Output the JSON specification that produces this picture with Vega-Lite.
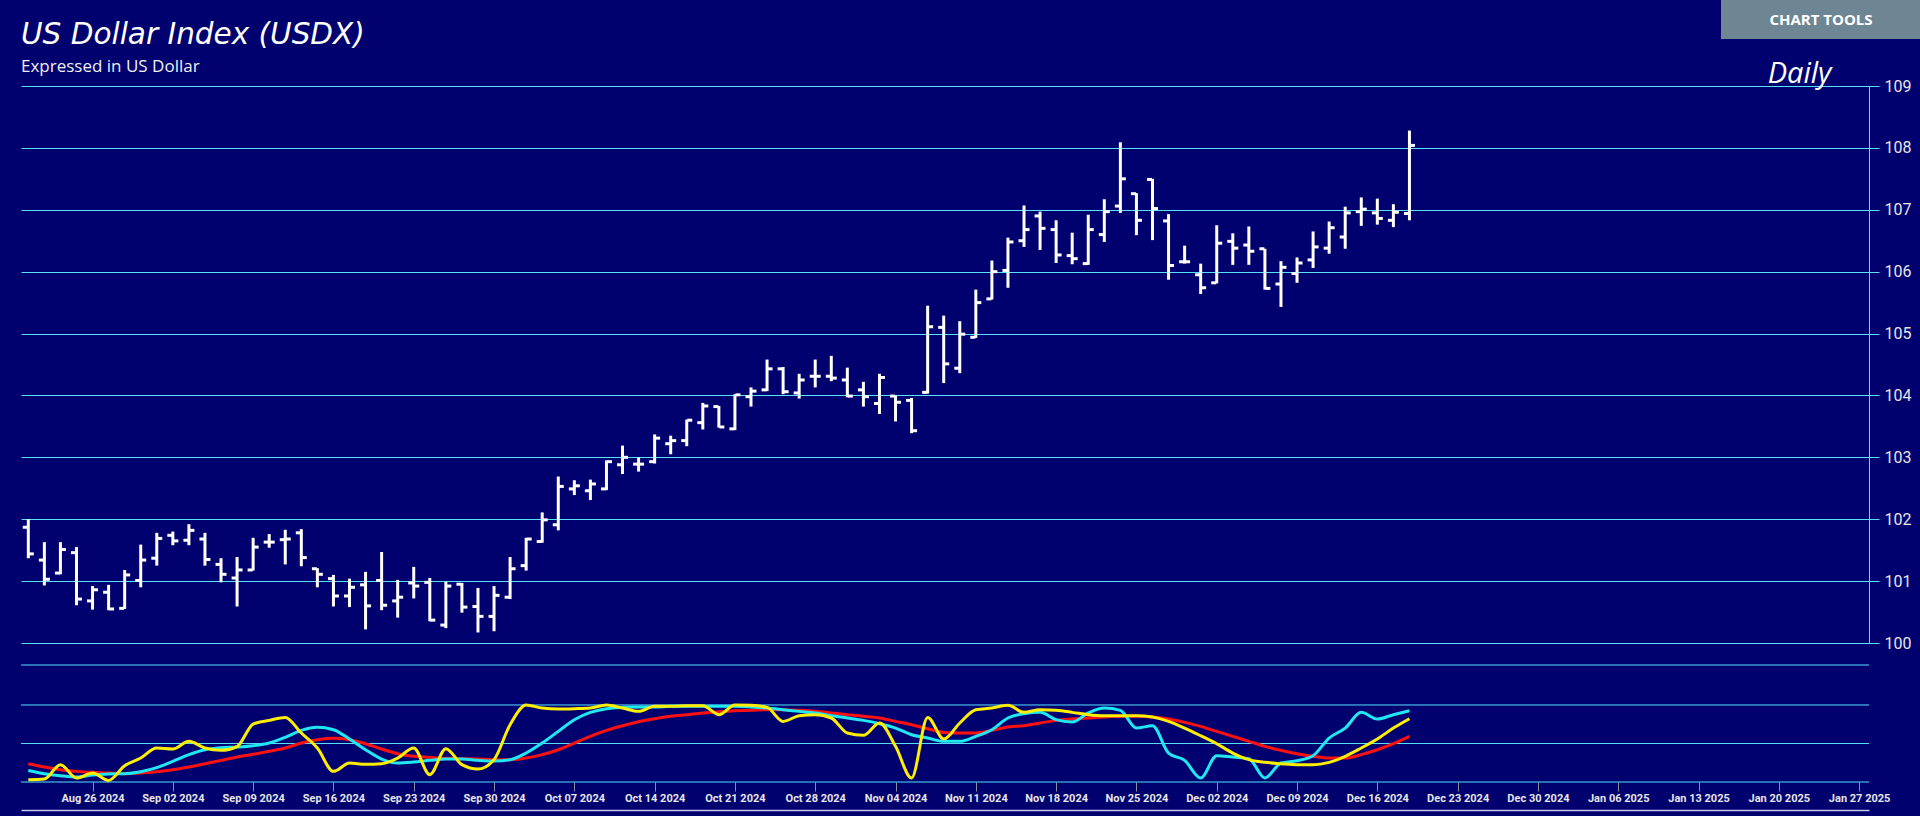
{
  "$schema": "https://vega.github.io/schema/vega-lite/v6.json",
  "background": "#00006e",
  "padding": {"left": 20, "top": 0, "right": 0, "bottom": 0},
  "config": {"view": {"stroke": null}, "font": "Roboto"},
  "datasets": {
    "bars": [
      {"d": "2024-08-20", "o": 101.87, "h": 102.00, "l": 101.37, "c": 101.44, "yl": 3.0, "cy": 14.9, "rd": 23.8},
      {"d": "2024-08-21", "o": 101.34, "h": 101.63, "l": 100.93, "c": 101.03, "yl": 3.9, "cy": 10.8, "rd": 19.4},
      {"d": "2024-08-22", "o": 101.13, "h": 101.63, "l": 101.11, "c": 101.51, "yl": 22.5, "cy": 8.2, "rd": 15.9},
      {"d": "2024-08-23", "o": 101.46, "h": 101.55, "l": 100.61, "c": 100.71, "yl": 5.2, "cy": 6.5, "rd": 13.8},
      {"d": "2024-08-26", "o": 100.68, "h": 100.92, "l": 100.54, "c": 100.86, "yl": 11.6, "cy": 9.1, "rd": 12.5},
      {"d": "2024-08-27", "o": 100.82, "h": 100.94, "l": 100.53, "c": 100.55, "yl": 2.1, "cy": 10.4, "rd": 11.6},
      {"d": "2024-08-28", "o": 100.56, "h": 101.18, "l": 100.55, "c": 101.10, "yl": 21.2, "cy": 10.8, "rd": 10.8},
      {"d": "2024-08-29", "o": 101.01, "h": 101.59, "l": 100.90, "c": 101.34, "yl": 31.1, "cy": 13.4, "rd": 11.6},
      {"d": "2024-08-30", "o": 101.37, "h": 101.78, "l": 101.25, "c": 101.69, "yl": 44.1, "cy": 18.6, "rd": 13.4},
      {"d": "2024-09-02", "o": 101.74, "h": 101.80, "l": 101.58, "c": 101.65, "yl": 42.8, "cy": 26.8, "rd": 15.9},
      {"d": "2024-09-03", "o": 101.66, "h": 101.92, "l": 101.58, "c": 101.82, "yl": 52.8, "cy": 35.5, "rd": 19.4},
      {"d": "2024-09-04", "o": 101.68, "h": 101.78, "l": 101.25, "c": 101.35, "yl": 44.1, "cy": 41.9, "rd": 23.8},
      {"d": "2024-09-05", "o": 101.27, "h": 101.37, "l": 100.98, "c": 101.11, "yl": 41.1, "cy": 44.5, "rd": 28.1},
      {"d": "2024-09-06", "o": 101.05, "h": 101.39, "l": 100.59, "c": 101.18, "yl": 46.0, "cy": 45.4, "rd": 32.4},
      {"d": "2024-09-09", "o": 101.18, "h": 101.70, "l": 101.17, "c": 101.55, "yl": 75.2, "cy": 47.1, "rd": 35.9},
      {"d": "2024-09-10", "o": 101.63, "h": 101.76, "l": 101.54, "c": 101.63, "yl": 80.0, "cy": 50.6, "rd": 39.8},
      {"d": "2024-09-11", "o": 101.67, "h": 101.83, "l": 101.27, "c": 101.68, "yl": 83.9, "cy": 58.0, "rd": 44.1},
      {"d": "2024-09-12", "o": 101.78, "h": 101.84, "l": 101.24, "c": 101.38, "yl": 63.6, "cy": 67.0, "rd": 50.6},
      {"d": "2024-09-13", "o": 101.20, "h": 101.21, "l": 100.90, "c": 101.11, "yl": 44.1, "cy": 71.0, "rd": 54.9},
      {"d": "2024-09-16", "o": 101.04, "h": 101.10, "l": 100.59, "c": 100.76, "yl": 13.8, "cy": 67.9, "rd": 56.7},
      {"d": "2024-09-17", "o": 100.76, "h": 101.04, "l": 100.58, "c": 100.90, "yl": 24.6, "cy": 55.8, "rd": 54.9},
      {"d": "2024-09-18", "o": 100.94, "h": 101.15, "l": 100.22, "c": 100.60, "yl": 22.9, "cy": 42.0, "rd": 49.7},
      {"d": "2024-09-19", "o": 101.01, "h": 101.47, "l": 100.53, "c": 100.61, "yl": 23.8, "cy": 29.8, "rd": 42.8},
      {"d": "2024-09-20", "o": 100.68, "h": 101.02, "l": 100.41, "c": 100.74, "yl": 31.1, "cy": 24.6, "rd": 36.7},
      {"d": "2024-09-23", "o": 100.97, "h": 101.23, "l": 100.72, "c": 100.92, "yl": 44.1, "cy": 25.9, "rd": 33.3},
      {"d": "2024-09-24", "o": 100.98, "h": 101.05, "l": 100.35, "c": 100.37, "yl": 9.5, "cy": 28.1, "rd": 32.0},
      {"d": "2024-09-25", "o": 100.29, "h": 100.99, "l": 100.24, "c": 100.92, "yl": 43.2, "cy": 29.8, "rd": 30.7},
      {"d": "2024-09-26", "o": 100.95, "h": 100.97, "l": 100.49, "c": 100.58, "yl": 22.5, "cy": 29.8, "rd": 30.3},
      {"d": "2024-09-27", "o": 100.59, "h": 100.89, "l": 100.17, "c": 100.43, "yl": 16.8, "cy": 28.1, "rd": 29.8},
      {"d": "2024-09-30", "o": 100.43, "h": 100.92, "l": 100.19, "c": 100.77, "yl": 29.0, "cy": 27.2, "rd": 29.0},
      {"d": "2024-10-01", "o": 100.74, "h": 101.39, "l": 100.71, "c": 101.20, "yl": 74.4, "cy": 29.0, "rd": 29.0},
      {"d": "2024-10-02", "o": 101.25, "h": 101.70, "l": 101.17, "c": 101.68, "yl": 100.0, "cy": 37.6, "rd": 31.1},
      {"d": "2024-10-03", "o": 101.64, "h": 102.11, "l": 101.62, "c": 101.99, "yl": 96.0, "cy": 50.6, "rd": 35.5},
      {"d": "2024-10-04", "o": 101.91, "h": 102.69, "l": 101.82, "c": 102.53, "yl": 94.8, "cy": 65.7, "rd": 41.9},
      {"d": "2024-10-07", "o": 102.49, "h": 102.63, "l": 102.39, "c": 102.54, "yl": 95.2, "cy": 80.9, "rd": 50.6},
      {"d": "2024-10-08", "o": 102.46, "h": 102.64, "l": 102.31, "c": 102.57, "yl": 96.0, "cy": 90.4, "rd": 59.3},
      {"d": "2024-10-09", "o": 102.49, "h": 102.95, "l": 102.47, "c": 102.93, "yl": 100.0, "cy": 95.2, "rd": 67.0},
      {"d": "2024-10-10", "o": 102.88, "h": 103.19, "l": 102.73, "c": 103.00, "yl": 96.0, "cy": 96.9, "rd": 73.1},
      {"d": "2024-10-11", "o": 102.89, "h": 103.00, "l": 102.77, "c": 102.89, "yl": 91.7, "cy": 97.4, "rd": 78.3},
      {"d": "2024-10-14", "o": 102.93, "h": 103.37, "l": 102.90, "c": 103.31, "yl": 98.2, "cy": 97.4, "rd": 82.2},
      {"d": "2024-10-15", "o": 103.22, "h": 103.35, "l": 103.05, "c": 103.27, "yl": 98.2, "cy": 98.2, "rd": 85.3},
      {"d": "2024-10-16", "o": 103.27, "h": 103.61, "l": 103.18, "c": 103.60, "yl": 99.0, "cy": 98.2, "rd": 87.4},
      {"d": "2024-10-17", "o": 103.56, "h": 103.88, "l": 103.45, "c": 103.83, "yl": 99.0, "cy": 98.2, "rd": 89.6},
      {"d": "2024-10-18", "o": 103.82, "h": 103.83, "l": 103.48, "c": 103.49, "yl": 87.4, "cy": 98.2, "rd": 91.3},
      {"d": "2024-10-21", "o": 103.46, "h": 104.02, "l": 103.44, "c": 104.01, "yl": 100.0, "cy": 98.2, "rd": 92.6},
      {"d": "2024-10-22", "o": 103.98, "h": 104.13, "l": 103.82, "c": 104.07, "yl": 99.5, "cy": 97.4, "rd": 93.1},
      {"d": "2024-10-23", "o": 104.09, "h": 104.58, "l": 104.07, "c": 104.43, "yl": 96.9, "cy": 96.0, "rd": 93.9},
      {"d": "2024-10-24", "o": 104.43, "h": 104.46, "l": 104.02, "c": 104.06, "yl": 78.7, "cy": 93.9, "rd": 93.9},
      {"d": "2024-10-25", "o": 104.04, "h": 104.35, "l": 103.95, "c": 104.25, "yl": 86.1, "cy": 91.7, "rd": 93.1},
      {"d": "2024-10-28", "o": 104.31, "h": 104.58, "l": 104.13, "c": 104.31, "yl": 87.4, "cy": 89.6, "rd": 91.7},
      {"d": "2024-10-29", "o": 104.31, "h": 104.64, "l": 104.23, "c": 104.28, "yl": 83.1, "cy": 86.1, "rd": 89.6},
      {"d": "2024-10-30", "o": 104.25, "h": 104.45, "l": 103.97, "c": 103.99, "yl": 63.6, "cy": 83.1, "rd": 87.4},
      {"d": "2024-10-31", "o": 104.09, "h": 104.22, "l": 103.82, "c": 103.98, "yl": 60.6, "cy": 80.0, "rd": 85.3},
      {"d": "2024-11-01", "o": 103.87, "h": 104.35, "l": 103.70, "c": 104.29, "yl": 76.6, "cy": 75.7, "rd": 83.1},
      {"d": "2024-11-04", "o": 103.99, "h": 104.00, "l": 103.58, "c": 103.89, "yl": 46.3, "cy": 70.0, "rd": 78.7},
      {"d": "2024-11-05", "o": 103.92, "h": 103.96, "l": 103.39, "c": 103.43, "yl": 5.2, "cy": 61.4, "rd": 74.4},
      {"d": "2024-11-06", "o": 104.05, "h": 105.45, "l": 104.03, "c": 105.11, "yl": 83.9, "cy": 57.1, "rd": 69.2},
      {"d": "2024-11-07", "o": 105.10, "h": 105.29, "l": 104.20, "c": 104.51, "yl": 55.8, "cy": 52.8, "rd": 64.4},
      {"d": "2024-11-08", "o": 104.44, "h": 105.20, "l": 104.36, "c": 104.99, "yl": 76.6, "cy": 52.8, "rd": 63.6},
      {"d": "2024-11-11", "o": 104.94, "h": 105.71, "l": 104.93, "c": 105.50, "yl": 93.9, "cy": 59.3, "rd": 63.6},
      {"d": "2024-11-12", "o": 105.56, "h": 106.18, "l": 105.55, "c": 106.00, "yl": 96.0, "cy": 67.9, "rd": 67.0},
      {"d": "2024-11-13", "o": 106.02, "h": 106.55, "l": 105.74, "c": 106.48, "yl": 99.5, "cy": 83.1, "rd": 71.5},
      {"d": "2024-11-14", "o": 106.50, "h": 107.07, "l": 106.40, "c": 106.68, "yl": 90.4, "cy": 88.7, "rd": 73.1},
      {"d": "2024-11-15", "o": 106.90, "h": 106.97, "l": 106.35, "c": 106.70, "yl": 93.9, "cy": 90.4, "rd": 76.6},
      {"d": "2024-11-18", "o": 106.68, "h": 106.83, "l": 106.14, "c": 106.27, "yl": 93.0, "cy": 80.9, "rd": 80.0},
      {"d": "2024-11-19", "o": 106.26, "h": 106.63, "l": 106.12, "c": 106.21, "yl": 90.4, "cy": 77.8, "rd": 81.8},
      {"d": "2024-11-20", "o": 106.13, "h": 106.92, "l": 106.11, "c": 106.68, "yl": 87.4, "cy": 89.6, "rd": 83.1},
      {"d": "2024-11-21", "o": 106.60, "h": 107.17, "l": 106.48, "c": 106.97, "yl": 86.1, "cy": 96.0, "rd": 84.4},
      {"d": "2024-11-22", "o": 107.06, "h": 108.09, "l": 106.95, "c": 107.50, "yl": 86.1, "cy": 93.0, "rd": 85.3},
      {"d": "2024-11-25", "o": 107.26, "h": 107.27, "l": 106.59, "c": 106.83, "yl": 86.1, "cy": 70.0, "rd": 85.3},
      {"d": "2024-11-26", "o": 107.49, "h": 107.50, "l": 106.51, "c": 107.02, "yl": 84.4, "cy": 73.1, "rd": 84.4},
      {"d": "2024-11-27", "o": 106.82, "h": 106.93, "l": 105.87, "c": 106.10, "yl": 78.7, "cy": 37.6, "rd": 81.8},
      {"d": "2024-11-28", "o": 106.16, "h": 106.42, "l": 106.13, "c": 106.16, "yl": 70.0, "cy": 28.1, "rd": 77.4},
      {"d": "2024-11-29", "o": 105.95, "h": 106.13, "l": 105.64, "c": 105.74, "yl": 60.1, "cy": 5.2, "rd": 72.2},
      {"d": "2024-12-02", "o": 105.82, "h": 106.75, "l": 105.81, "c": 106.46, "yl": 49.7, "cy": 34.2, "rd": 65.7},
      {"d": "2024-12-03", "o": 106.49, "h": 106.62, "l": 106.11, "c": 106.38, "yl": 37.6, "cy": 32.4, "rd": 59.3},
      {"d": "2024-12-04", "o": 106.43, "h": 106.73, "l": 106.11, "c": 106.33, "yl": 29.0, "cy": 30.3, "rd": 52.8},
      {"d": "2024-12-05", "o": 106.37, "h": 106.37, "l": 105.71, "c": 105.73, "yl": 25.5, "cy": 5.2, "rd": 46.3},
      {"d": "2024-12-06", "o": 105.80, "h": 106.17, "l": 105.43, "c": 106.07, "yl": 23.8, "cy": 24.6, "rd": 41.1},
      {"d": "2024-12-09", "o": 105.97, "h": 106.23, "l": 105.82, "c": 106.14, "yl": 22.5, "cy": 27.7, "rd": 36.7},
      {"d": "2024-12-10", "o": 106.19, "h": 106.65, "l": 106.06, "c": 106.40, "yl": 22.5, "cy": 34.2, "rd": 33.3},
      {"d": "2024-12-11", "o": 106.38, "h": 106.81, "l": 106.29, "c": 106.71, "yl": 25.5, "cy": 57.1, "rd": 31.1},
      {"d": "2024-12-12", "o": 106.56, "h": 107.05, "l": 106.37, "c": 106.95, "yl": 33.3, "cy": 70.0, "rd": 31.1},
      {"d": "2024-12-13", "o": 106.97, "h": 107.20, "l": 106.74, "c": 107.01, "yl": 44.1, "cy": 90.4, "rd": 35.5},
      {"d": "2024-12-16", "o": 106.95, "h": 107.18, "l": 106.76, "c": 106.86, "yl": 55.8, "cy": 81.8, "rd": 41.9},
      {"d": "2024-12-17", "o": 106.83, "h": 107.09, "l": 106.72, "c": 106.96, "yl": 70.0, "cy": 87.4, "rd": 49.7},
      {"d": "2024-12-18", "o": 106.94, "h": 108.28, "l": 106.83, "c": 108.04, "yl": 82.2, "cy": 92.6, "rd": 59.3}
    ],
    "levels": [
      {"level": 0},
      {"level": 50},
      {"level": 100},
      {"level": 151.9}
    ]
  },
  "bounds": "flush",
  "spacing": 86,
  "vconcat": [
    {
      "bounds": "flush",
      "spacing": 0,
      "hconcat": [
        {
          "width": 1700,
          "height": 39,
          "title": {
            "text": "US Dollar Index (USDX)",
            "subtitle": "Expressed in US Dollar",
            "anchor": "start",
            "frame": "group",
            "orient": "top",
            "offset": -76,
            "font": "DejaVu Sans",
            "fontSize": 29.5,
            "fontStyle": "italic",
            "fontWeight": "normal",
            "color": "#ffffff",
            "subtitleFont": "Open Sans",
            "subtitleFontSize": 17,
            "subtitleColor": "#f0f0f0",
            "subtitlePadding": 9
          },
          "data": {"values": []},
          "mark": "point"
        },
        {
          "width": 200,
          "height": 39,
          "view": {"fill": "#6e8594", "stroke": null},
          "data": {"values": [{"label": "CHART TOOLS"}]},
          "mark": {"type": "text", "font": "Open Sans", "fontSize": 15, "fontWeight": "bold", "color": "#ffffff"},
          "encoding": {"text": {"field": "label", "type": "nominal"}}
        }
      ]
    },
    {
      "bounds": "flush",
      "spacing": 22,
      "resolve": {"scale": {"x": "independent", "y": "independent"}},
      "vconcat": [
        {
          "width": 1848,
          "height": 557,
          "data": {"name": "bars"},
          "encoding": {
            "x": {
              "field": "d",
              "type": "ordinal",
              "scale": {
                "type": "point",
                "padding": 0.535,
                "align": 0.425,
                "domain": ["2024-08-20","2024-08-21","2024-08-22","2024-08-23","2024-08-26","2024-08-27","2024-08-28","2024-08-29","2024-08-30","2024-09-02","2024-09-03","2024-09-04","2024-09-05","2024-09-06","2024-09-09","2024-09-10","2024-09-11","2024-09-12","2024-09-13","2024-09-16","2024-09-17","2024-09-18","2024-09-19","2024-09-20","2024-09-23","2024-09-24","2024-09-25","2024-09-26","2024-09-27","2024-09-30","2024-10-01","2024-10-02","2024-10-03","2024-10-04","2024-10-07","2024-10-08","2024-10-09","2024-10-10","2024-10-11","2024-10-14","2024-10-15","2024-10-16","2024-10-17","2024-10-18","2024-10-21","2024-10-22","2024-10-23","2024-10-24","2024-10-25","2024-10-28","2024-10-29","2024-10-30","2024-10-31","2024-11-01","2024-11-04","2024-11-05","2024-11-06","2024-11-07","2024-11-08","2024-11-11","2024-11-12","2024-11-13","2024-11-14","2024-11-15","2024-11-18","2024-11-19","2024-11-20","2024-11-21","2024-11-22","2024-11-25","2024-11-26","2024-11-27","2024-11-28","2024-11-29","2024-12-02","2024-12-03","2024-12-04","2024-12-05","2024-12-06","2024-12-09","2024-12-10","2024-12-11","2024-12-12","2024-12-13","2024-12-16","2024-12-17","2024-12-18","2024-12-19","2024-12-20","2024-12-23","2024-12-24","2024-12-25","2024-12-26","2024-12-27","2024-12-30","2024-12-31","2025-01-01","2025-01-02","2025-01-03","2025-01-06","2025-01-07","2025-01-08","2025-01-09","2025-01-10","2025-01-13","2025-01-14","2025-01-15","2025-01-16","2025-01-17","2025-01-20","2025-01-21","2025-01-22","2025-01-23","2025-01-24","2025-01-27"]
              },
              "axis": null
            }
          },
          "layer": [
            {
              "mark": {"type": "rule", "color": "#ffffff", "strokeWidth": 3},
              "encoding": {
                "y": {
                  "field": "l",
                  "type": "quantitative",
                  "scale": {"domain": [100, 109], "zero": false, "nice": false},
                  "axis": {
                    "orient": "right",
                    "values": [100, 101, 102, 103, 104, 105, 106, 107, 108, 109],
                    "format": ".0f",
                    "grid": true,
                    "gridColor": "#55e3ff",
                    "gridOpacity": 1,
                    "gridWidth": 1,
                    "domain": true,
                    "domainColor": "#55e3ff",
                    "domainWidth": 1,
                    "ticks": true,
                    "tickColor": "#55e3ff",
                    "tickSize": 10,
                    "tickWidth": 1,
                    "labelFont": "Roboto",
                    "labelFontSize": 16,
                    "labelColor": "#e6e6e6",
                    "labelPadding": 5,
                    "labelFlush": false,
                    "labelOverlap": false,
                    "title": "Daily",
                    "titleAngle": 0,
                    "titleX": -70,
                    "titleY": -4,
                    "titleAlign": "center",
                    "titleBaseline": "alphabetic",
                    "titleFont": "Open Sans",
                    "titleFontSize": 29,
                    "titleFontStyle": "italic",
                    "titleFontWeight": "normal",
                    "titleColor": "#ffffff"
                  }
                },
                "y2": {"field": "h"}
              }
            },
            {
              "mark": {"type": "tick", "color": "#ffffff", "opacity": 1, "size": 5, "thickness": 3, "xOffset": -3},
              "encoding": {"y": {"field": "o", "type": "quantitative"}}
            },
            {
              "mark": {"type": "tick", "color": "#ffffff", "opacity": 1, "size": 5, "thickness": 3, "xOffset": 3},
              "encoding": {"y": {"field": "c", "type": "quantitative"}}
            }
          ]
        },
        {
          "width": 1848,
          "height": 117,
          "layer": [
            {
              "data": {"name": "levels"},
              "mark": {"type": "rule", "color": "#55e3ff", "strokeWidth": 1},
              "encoding": {
                "y": {
                  "field": "level",
                  "type": "quantitative",
                  "scale": {"domain": [0, 151.9], "zero": false, "nice": false},
                  "axis": null
                }
              }
            },
            {
              "data": {"name": "bars"},
              "mark": {"type": "line", "color": "#ff1010", "strokeWidth": 3, "interpolate": "monotone"},
              "encoding": {
                "x": {
                  "field": "d",
                  "type": "ordinal",
                  "scale": {
                    "type": "point",
                    "padding": 0.535,
                    "align": 0.425,
                    "domain": ["2024-08-20","2024-08-21","2024-08-22","2024-08-23","2024-08-26","2024-08-27","2024-08-28","2024-08-29","2024-08-30","2024-09-02","2024-09-03","2024-09-04","2024-09-05","2024-09-06","2024-09-09","2024-09-10","2024-09-11","2024-09-12","2024-09-13","2024-09-16","2024-09-17","2024-09-18","2024-09-19","2024-09-20","2024-09-23","2024-09-24","2024-09-25","2024-09-26","2024-09-27","2024-09-30","2024-10-01","2024-10-02","2024-10-03","2024-10-04","2024-10-07","2024-10-08","2024-10-09","2024-10-10","2024-10-11","2024-10-14","2024-10-15","2024-10-16","2024-10-17","2024-10-18","2024-10-21","2024-10-22","2024-10-23","2024-10-24","2024-10-25","2024-10-28","2024-10-29","2024-10-30","2024-10-31","2024-11-01","2024-11-04","2024-11-05","2024-11-06","2024-11-07","2024-11-08","2024-11-11","2024-11-12","2024-11-13","2024-11-14","2024-11-15","2024-11-18","2024-11-19","2024-11-20","2024-11-21","2024-11-22","2024-11-25","2024-11-26","2024-11-27","2024-11-28","2024-11-29","2024-12-02","2024-12-03","2024-12-04","2024-12-05","2024-12-06","2024-12-09","2024-12-10","2024-12-11","2024-12-12","2024-12-13","2024-12-16","2024-12-17","2024-12-18","2024-12-19","2024-12-20","2024-12-23","2024-12-24","2024-12-25","2024-12-26","2024-12-27","2024-12-30","2024-12-31","2025-01-01","2025-01-02","2025-01-03","2025-01-06","2025-01-07","2025-01-08","2025-01-09","2025-01-10","2025-01-13","2025-01-14","2025-01-15","2025-01-16","2025-01-17","2025-01-20","2025-01-21","2025-01-22","2025-01-23","2025-01-24","2025-01-27"]
                  },
                  "axis": {
                    "values": ["2024-08-26","2024-09-02","2024-09-09","2024-09-16","2024-09-23","2024-09-30","2024-10-07","2024-10-14","2024-10-21","2024-10-28","2024-11-04","2024-11-11","2024-11-18","2024-11-25","2024-12-02","2024-12-09","2024-12-16","2024-12-23","2024-12-30","2025-01-06","2025-01-13","2025-01-20","2025-01-27"],
                    "labelExpr": "timeFormat(timeParse(datum.value, '%Y-%m-%d'), '%b %d %Y')",
                    "domain": false,
                    "grid": false,
                    "ticks": true,
                    "tickColor": "#8a8aa0",
                    "tickSize": 9,
                    "tickWidth": 1,
                    "labelFont": "Roboto",
                    "labelFontSize": 11,
                    "labelFontWeight": "bold",
                    "labelColor": "#e6e6e6",
                    "labelPadding": 1,
                    "labelAngle": 0,
                    "labelOverlap": false,
                    "title": null
                  }
                },
                "y": {"field": "rd", "type": "quantitative"}
              }
            },
            {
              "data": {"name": "bars"},
              "mark": {"type": "line", "color": "#1fe8f2", "strokeWidth": 3, "interpolate": "monotone"},
              "encoding": {
                "x": {"field": "d", "type": "ordinal"},
                "y": {"field": "cy", "type": "quantitative"}
              }
            },
            {
              "data": {"name": "bars"},
              "mark": {"type": "line", "color": "#ffee00", "strokeWidth": 3, "interpolate": "monotone"},
              "encoding": {
                "x": {"field": "d", "type": "ordinal"},
                "y": {"field": "yl", "type": "quantitative"}
              }
            }
          ]
        },
        {
          "width": 1848,
          "height": 12,
          "data": {"name": "bars"},
          "mark": {"type": "point", "opacity": 0},
          "encoding": {
            "x": {
              "field": "d",
              "type": "ordinal",
              "scale": {"type": "point", "padding": 0.535, "align": 0.425},
              "axis": {"orient": "bottom", "offset": -6, "domain": true, "domainColor": "#c8c8f0", "domainWidth": 1.5, "ticks": false, "labels": false, "grid": false, "title": null}
            }
          }
        }
      ]
    }
  ]
}
